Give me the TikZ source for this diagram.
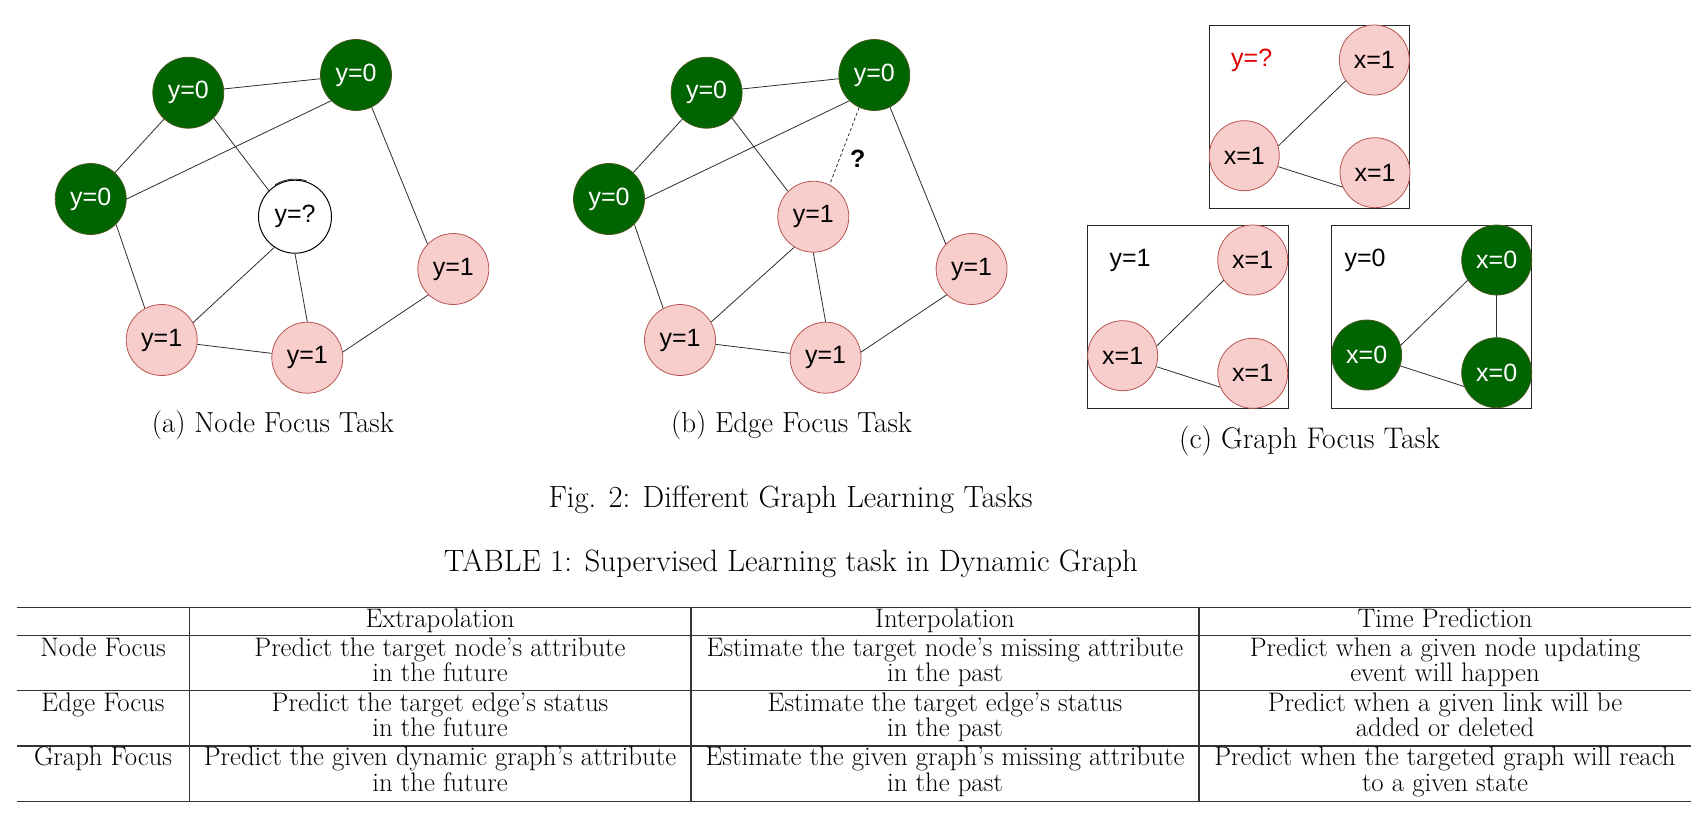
\documentclass[tikz,border=0pt]{standalone}
\usepackage{fontspec}
\usepackage{graphicx}
\newfontfamily\sansf{Liberation Sans}
\definecolor{gfill}{RGB}{0,100,0}
\definecolor{gdraw}{RGB}{70,90,30}
\definecolor{pfill}{RGB}{248,206,204}
\definecolor{pdraw}{RGB}{184,84,80}
\definecolor{edgec}{RGB}{45,45,45}
\definecolor{qred}{RGB}{225,0,0}
\tikzset{
  nfont/.style={font=\sansf\fontsize{25}{29}\selectfont},
  gnode/.style={circle, minimum size=71pt, inner sep=0pt, fill=gfill, draw=gdraw, line width=0.8pt, text=white, nfont},
  pnode/.style={circle, minimum size=71pt, inner sep=0pt, fill=pfill, draw=pdraw, line width=0.8pt, text=black, nfont},
  pcnode/.style={pnode, minimum size=70pt},
  gcnode/.style={gnode, minimum size=70pt},
  wnode/.style={circle, minimum size=73pt, inner sep=0pt, fill=white, draw=black, line width=1pt, text=black, nfont},
  edge/.style={draw=edgec, line width=0.8pt},
  dashedge/.style={edge, dashed, dash pattern=on 3pt off 2.5pt},
  sketch/.style={draw=black, line width=0.7pt},
  framebox/.style={draw=black!85, line width=1pt},
  lbl/.style={inner sep=0pt, nfont},
  qmark/.style={inner sep=0pt, font=\sansf\bfseries\fontsize{25}{29}\selectfont},
  capsub/.style={anchor=base, inner sep=0pt, font=\fontsize{26}{30}\selectfont},
  capmain/.style={anchor=base, inner sep=0pt, font=\fontsize{28}{32}\selectfont},
  cell/.style={anchor=base, inner sep=0pt, font=\fontsize{26.8}{28}\selectfont},
  tabrule/.style={draw=black!80, line width=1.3pt},
}
\begin{document}
\begin{tikzpicture}[x=1pt,y=-1pt]
\useasboundingbox (0,0) rectangle (1701,822);

% ---------- (a) Node focus ----------
\node[gnode] (A1) at (188.3,92.7) {y=0};
\node[gnode] (A2) at (356,75) {y=0};
\node[gnode] (A3) at (90.7,199) {y=0};
\node[wnode] (A4) at (295,216.7) {y=?};
\node[pnode] (A5) at (453.3,269) {y=1};
\node[pnode] (A6) at (161.7,340) {y=1};
\node[pnode] (A7) at (307.3,357.7) {y=1};
\draw[sketch] (A4.center) ++(-122:37.6) arc[start angle=-122, end angle=-72, radius=37.6];
\draw[edge] (A1) -- (A2);
\draw[edge] (A1) -- (A3);
\draw[edge] (A1.-45) -- (A4.135);
\draw[edge] (A3.east) -- (A2.-134);
\draw[edge] (A2.-64) -- (A5.136);
\draw[edge] (A3.-45) -- (A6.118);
\draw[edge] (A4.-124) -- (A6.29);
\draw[edge] (A4.south) -- (A7.north);
\draw[edge] (A6) -- (A7);
\draw[edge] (A7.9) -- (A5.-134);

% ---------- (b) Edge focus ----------
\node[gnode] (B1) at (706.6,92.7) {y=0};
\node[gnode] (B2) at (874.3,75) {y=0};
\node[gnode] (B3) at (609,199) {y=0};
\node[pnode] (B4) at (813.3,216.7) {y=1};
\node[pnode] (B5) at (971.6,269) {y=1};
\node[pnode] (B6) at (680,340) {y=1};
\node[pnode] (B7) at (825.6,357.7) {y=1};
\draw[edge] (B1) -- (B2);
\draw[edge] (B1) -- (B3);
\draw[edge] (B1.-45) -- (B4.135);
\draw[edge] (B3.east) -- (B2.-134);
\draw[edge] (B2.-64) -- (B5.136);
\draw[edge] (B3.-45) -- (B6.118);
\draw[edge] (B4.-122) -- (B6.30);
\draw[edge] (B4.south) -- (B7.north);
\draw[edge] (B6) -- (B7);
\draw[edge] (B7.9) -- (B5.-134);
\draw[dashedge] (B2.-115) -- (B4.63);
\node[qmark] (Q) at (857.7,158.3) {?};

% ---------- (c) Graph focus ----------
\draw[framebox] (1209.3,25) rectangle (1409.3,208.3);
\node[pcnode] (C1) at (1244.3,155.7) {x=1};
\node[pcnode] (C2) at (1374.3,60) {x=1};
\node[pcnode] (C3) at (1375,172.7) {x=1};
\node[lbl, text=qred] (CY) at (1251.7,60) {y=?};
\draw[edge] (C1.16) -- (C2.-144);
\draw[edge] (C1.-18) -- (C3.-156);

\draw[framebox] (1087.3,225.3) rectangle (1288,408);
\node[pcnode] (D1) at (1122.7,355.7) {x=1};
\node[pcnode] (D2) at (1252.7,260) {x=1};
\node[pcnode] (D3) at (1252.7,373.3) {x=1};
\node[lbl] (DY) at (1130,260) {y=1};
\draw[edge] (D1.16) -- (D2.-145);
\draw[edge] (D1.-18) -- (D3.-157);

\draw[framebox] (1331.7,225) rectangle (1531.7,408.3);
\node[gcnode] (E1) at (1366.7,355) {x=0};
\node[gcnode] (E2) at (1496.7,260) {x=0};
\node[gcnode] (E3) at (1496.7,372.7) {x=0};
\node[lbl] (EY) at (1365,260) {y=0};
\draw[edge] (E1.16) -- (E2.-145);
\draw[edge] (E1.-18) -- (E3.-157);
\draw[edge] (E2.south) -- (E3.north);

% ---------- captions ----------
\node[capsub] (capa) at (272.8,432) {\resizebox{242pt}{!}{(a) Node Focus Task}};
\node[capsub] (capb) at (791.5,432) {\resizebox{241pt}{!}{(b) Edge Focus Task}};
\node[capsub] (capc) at (1309.5,448) {\resizebox{261pt}{!}{(c) Graph Focus Task}};
\node[capmain] (figcap) at (790.5,507.3) {\resizebox{484pt}{!}{Fig. 2: Different Graph Learning Tasks}};
\node[capmain] (tabcap) at (791,571.7) {\resizebox{694pt}{!}{TABLE 1: Supervised Learning task in Dynamic Graph}};

% ---------- table ----------
\draw[tabrule] (16.7,607.7) -- (1691,607.7);
\draw[tabrule] (16.7,635.7) -- (1691,635.7);
\draw[tabrule] (16.7,690.7) -- (1691,690.7);
\draw[tabrule] (16.7,746) -- (1691,746);
\draw[tabrule] (16.7,801.3) -- (1691,801.3);
\draw[tabrule] (189.3,607.7) -- (189.3,801.3);
\draw[tabrule] (691,607.7) -- (691,801.3);
\draw[tabrule] (1199,607.7) -- (1199,801.3);

\node[cell] (h2) at (440,627.3) {Extrapolation};
\node[cell] (h3) at (945,627.3) {Interpolation};
\node[cell] (h4) at (1445,627.3) {Time Prediction};

\node[cell] (r1c1) at (103,656) {Node Focus};
\node[cell] (r1c2a) at (440,656) {Predict the target node's attribute};
\node[cell] (r1c2b) at (440,681.7) {in the future};
\node[cell] (r1c3a) at (945,656) {Estimate the target node's missing attribute};
\node[cell] (r1c3b) at (945,681.7) {in the past};
\node[cell] (r1c4a) at (1445,656) {Predict when a given node updating};
\node[cell] (r1c4b) at (1445,681.7) {event will happen};

\node[cell] (r2c1) at (103,711) {Edge Focus};
\node[cell] (r2c2a) at (440,711) {Predict the target edge's status};
\node[cell] (r2c2b) at (440,736.7) {in the future};
\node[cell] (r2c3a) at (945,711) {Estimate the target edge's status};
\node[cell] (r2c3b) at (945,736.7) {in the past};
\node[cell] (r2c4a) at (1445,711) {Predict when a given link will be};
\node[cell] (r2c4b) at (1445,736.7) {added or deleted};

\node[cell] (r3c1) at (103,765.7) {Graph Focus};
\node[cell] (r3c2a) at (440,765.7) {Predict the given dynamic graph's attribute};
\node[cell] (r3c2b) at (440,791.7) {in the future};
\node[cell] (r3c3a) at (945,765.7) {Estimate the given graph's missing attribute};
\node[cell] (r3c3b) at (945,791.7) {in the past};
\node[cell] (r3c4a) at (1445,765.7) {Predict when the targeted graph will reach};
\node[cell] (r3c4b) at (1445,791.7) {to a given state};
\end{tikzpicture}
\end{document}
